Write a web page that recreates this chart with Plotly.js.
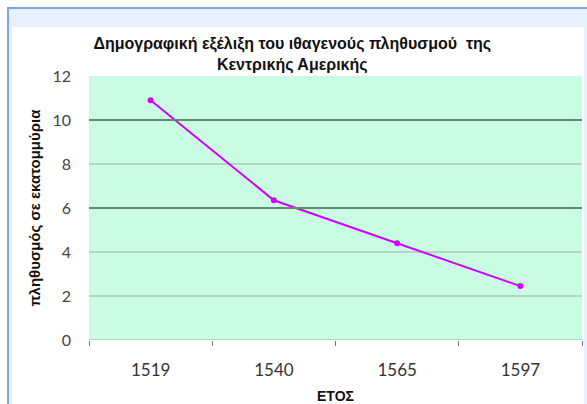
<!DOCTYPE html>
<html>
<head>
<meta charset="utf-8">
<script src="https://cdn.plot.ly/plotly-3.0.1.min.js"></script>
<style>
html,body{margin:0;padding:0;width:587px;height:404px;overflow:hidden;background:#ffffff;}
#frame{position:absolute;left:7px;top:7px;width:580px;height:397px;background:#e8f0fc;border-top:2px solid #7aa6ee;border-left:2px solid #7aa6ee;box-sizing:border-box;}
#chart{position:absolute;left:12px;top:27px;width:572px;height:377px;}
</style>
</head>
<body>
<div id="frame"></div>
<div id="chart"></div>
<script>
const years = ['1519', '1540', '1565', '1597'];
const population = [10.9, 6.35, 4.4, 2.45];
const yTicks = [0, 2, 4, 6, 8, 10, 12];
const strongGrid = [6, 10];
const chartTitle = '<b>Δημογραφική εξέλιξη του ιθαγενούς πληθυσμού  της<br>Κεντρικής Αμερικής</b>';
const yTitle = '<b>πληθυσμός σε εκατομμύρια</b>';
const xTitle = '<b>ΕΤΟΣ</b>';

const trace = {
  x: years, y: population, type: 'scatter', mode: 'lines+markers',
  line: {color: '#d000ff', width: 2},
  marker: {color: '#d000ff', size: 6},
  hoverinfo: 'x+y'
};

const layout = {
  width: 572, height: 377,
  margin: {l: 77, r: 2, t: 49, b: 64},
  paper_bgcolor: '#ffffff',
  plot_bgcolor: '#cafce3',
  showlegend: false,
  title: {
    text: chartTitle,
    font: {family: 'Liberation Sans, Arial, sans-serif', size: 16, color: '#111'},
    x: 0.49, xanchor: 'center', y: 0.942, yanchor: 'top'
  },
  xaxis: {
    type: 'category',
    range: [-0.5, 3.5],
    tickson: 'boundaries',
    ticks: 'outside', ticklen: 5, tickcolor: '#777', tickwidth: 1,
    showgrid: false, zeroline: false, showline: false,
    tickfont: {family: 'Lato, sans-serif', size: 17, color: '#333'},
    ticklabelstandoff: 18,
    title: {text: xTitle, font: {family: 'Liberation Sans, Arial, sans-serif', size: 14, color: '#111'}, standoff: 18},
    fixedrange: true
  },
  yaxis: {
    range: [0, 12],
    tickvals: yTicks,
    ticks: '', showline: false,
    gridcolor: '#aed8bf', gridwidth: 1.5,
    zeroline: false,
    tickfont: {family: 'Lato, sans-serif', size: 16, color: '#444'},
    ticklabelstandoff: 17,
    title: {text: yTitle, font: {family: 'Liberation Sans, Arial, sans-serif', size: 15, color: '#111'}, standoff: 8},
    fixedrange: true
  },
  shapes: strongGrid.map(v => ({
    type: 'line', xref: 'paper', yref: 'y', x0: 0, x1: 1, y0: v, y1: v,
    line: {color: '#5f8f70', width: 2}, layer: 'above'
  })).concat([{
    type: 'line', xref: 'paper', yref: 'y', x0: 0, x1: 1, y0: 0, y1: 0,
    line: {color: '#a9c8b5', width: 1.5}, layer: 'above'
  }])
};

Plotly.newPlot('chart', [trace], layout, {displayModeBar: false, staticPlot: true});
</script>
</body>
</html>
